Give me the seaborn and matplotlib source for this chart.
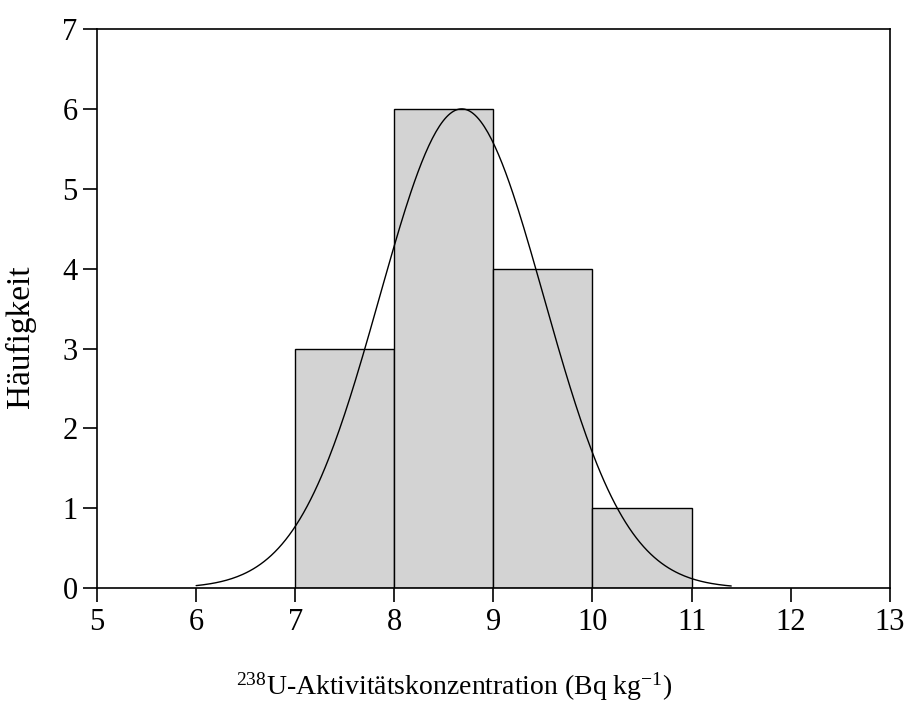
import numpy as np
import pandas as pd
import matplotlib
matplotlib.use("Agg")
import matplotlib.pyplot as plt
import seaborn as sns

# Data
bin_edges = [7, 8, 9, 10, 11]
bin_counts = [3, 6, 4, 1]
bin_centers = [7.5, 8.5, 9.5, 10.5]

# Fitted normal curve parameters
fit_mean = 8.68
fit_sd = 0.83
fit_peak = 6.0
curve_start = 6.0
curve_end = 11.4

x_ticks = [5, 6, 7, 8, 9, 10, 11, 12, 13]
y_ticks = [0, 1, 2, 3, 4, 5, 6, 7]

sns.set_theme(style="ticks")
plt.rcParams['font.family'] = ['Liberation Serif', 'DejaVu Serif']
plt.rcParams['mathtext.fontset'] = 'custom'
plt.rcParams['mathtext.rm'] = 'Liberation Serif'
plt.rcParams['mathtext.it'] = 'Liberation Serif:italic'
plt.rcParams['mathtext.bf'] = 'Liberation Serif:bold'
plt.rcParams['text.color'] = 'black'
plt.rcParams['axes.labelcolor'] = 'black'
plt.rcParams['xtick.color'] = 'black'
plt.rcParams['ytick.color'] = 'black'

fig = plt.figure(figsize=(9.07, 7.07), dpi=100)
ax = fig.add_axes([0.107, 0.168, 0.874, 0.791])

df = pd.DataFrame({"x": bin_centers, "w": bin_counts})
sns.histplot(data=df, x="x", weights="w", bins=bin_edges, ax=ax,
             color="#d3d3d3", edgecolor="black", linewidth=1.0, alpha=1.0)

xs = np.linspace(curve_start, curve_end, 300)
ys = fit_peak * np.exp(-0.5 * ((xs - fit_mean) / fit_sd) ** 2)
sns.lineplot(x=xs, y=ys, ax=ax, color="black", linewidth=1.0)

ax.set_xlim(5, 13)
ax.set_ylim(0, 7)
ax.set_xticks(x_ticks)
ax.set_yticks(y_ticks)
ax.tick_params(axis='both', labelsize=22, direction='out', length=10, width=1.2,
               color='black', labelcolor='black', pad=4)
for s in ax.spines.values():
    s.set_linewidth(1.2)
    s.set_color('black')

ax.set_ylabel("Häufigkeit", fontsize=24, labelpad=19, color='black')
ax.set_xlabel(r"$^{238}$U-Aktivitätskonzentration (Bq kg$^{-1}$)", fontsize=20, labelpad=24, color='black')
ax.yaxis.label.set_y(0.45)
ax.xaxis.label.set_x(0.45)

fig.savefig("out.png", dpi=100)
